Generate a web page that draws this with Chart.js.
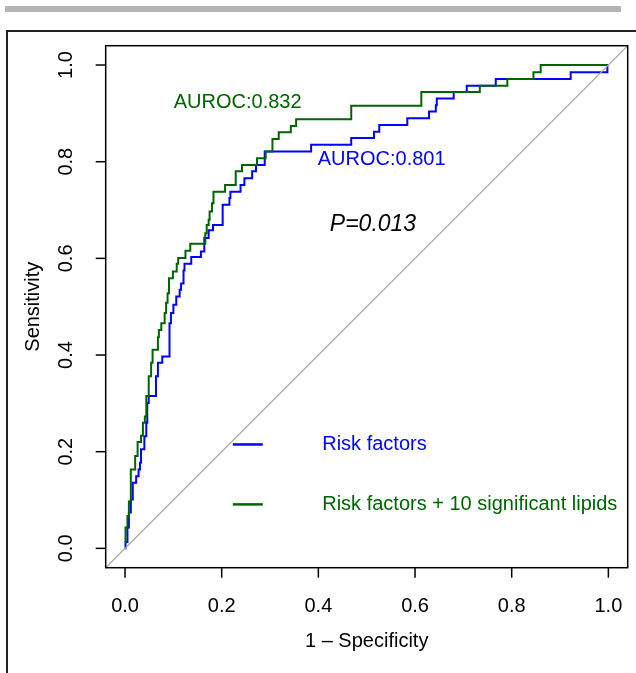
<!DOCTYPE html>
<html>
<head>
<meta charset="utf-8">
<script src="https://cdn.jsdelivr.net/npm/chart.js@4/dist/chart.umd.min.js"></script>
<style>
  html, body { margin: 0; padding: 0; background: #fff; }
  canvas { display: block; }
</style>
</head>
<body>
<canvas id="roc" width="636" height="673"></canvas>
<script>
// ── Data (1 - specificity, sensitivity) ──
// Each point is the top of a vertical step at that false positive rate.

const riskFpr = [0, 0.001, 0.005, 0.008, 0.012, 0.016, 0.023, 0.028, 0.031, 0.033, 0.040, 0.044, 0.046, 0.049,
    0.064, 0.068, 0.077, 0.092, 0.095, 0.100, 0.106, 0.113, 0.116, 0.121, 0.123, 0.137, 0.157, 0.164,
    0.173, 0.182, 0.202, 0.216, 0.218, 0.239, 0.247, 0.263, 0.271, 0.289, 0.385, 0.468, 0.515, 0.526,
    0.584, 0.629, 0.643, 0.645, 0.680, 0.707, 0.767, 0.922, 0.998, 1.0];
const riskSens = [0, 0.013, 0.043, 0.074, 0.101, 0.136, 0.149, 0.163, 0.177, 0.205, 0.232, 0.260, 0.301, 0.315,
    0.356, 0.384, 0.397, 0.466, 0.487, 0.504, 0.521, 0.535, 0.548, 0.575, 0.589, 0.603, 0.614, 0.642,
    0.658, 0.669, 0.711, 0.725, 0.738, 0.752, 0.766, 0.780, 0.793, 0.821, 0.835, 0.849, 0.862, 0.876,
    0.890, 0.904, 0.917, 0.931, 0.944, 0.957, 0.971, 0.985, 1.0, 1.0];

const lipidFpr = [0, 0.001, 0.005, 0.008, 0.012, 0.021, 0.026, 0.033, 0.037, 0.041, 0.044, 0.049, 0.054, 0.057,
    0.068, 0.070, 0.075, 0.082, 0.085, 0.088, 0.091, 0.099, 0.107, 0.110, 0.125, 0.135, 0.166, 0.169,
    0.173, 0.175, 0.180, 0.183, 0.207, 0.229, 0.242, 0.273, 0.291, 0.305, 0.318, 0.343, 0.354, 0.468,
    0.613, 0.734, 0.791, 0.845, 0.860, 1.0];
const lipidSens = [0.013, 0.043, 0.067, 0.097, 0.163, 0.191, 0.220, 0.233, 0.260, 0.273, 0.315, 0.356, 0.384, 0.411,
    0.437, 0.452, 0.466, 0.487, 0.508, 0.528, 0.559, 0.573, 0.589, 0.601, 0.616, 0.630, 0.652, 0.669,
    0.680, 0.697, 0.714, 0.738, 0.752, 0.780, 0.793, 0.807, 0.821, 0.847, 0.861, 0.874, 0.888, 0.916,
    0.944, 0.957, 0.971, 0.985, 1.0, 1.0];

const chanceLine = [-0.04, 1.04];

const xTicks = [0, 0.2, 0.4, 0.6, 0.8, 1.0];
const yTicks = [0, 0.2, 0.4, 0.6, 0.8, 1.0];
const xTickLabels = ['0.0', '0.2', '0.4', '0.6', '0.8', '1.0'];
const yTickLabels = ['0.0', '0.2', '0.4', '0.6', '0.8', '1.0'];

const seriesNames = ['Risk factors', 'Risk factors + 10 significant lipids'];
const aucLabels = ['AUROC:0.801', 'AUROC:0.832'];
const pLabel = 'P=0.013';

const BLUE = '#0000ff';
const GREEN = '#006400';
const FONT = '"Liberation Sans", Arial, Helvetica, sans-serif';

function toPoints(xs, ys) {
    return xs.map((x, i) => ({ x, y: ys[i] }));
}

// ── Base-R style frame, axes and annotations ──
const rDecor = {
    id: 'rDecor',
    beforeDraw(chart) {
        const ctx = chart.ctx;
        ctx.save();
        ctx.fillStyle = '#fff';
        ctx.fillRect(0, 0, chart.width, chart.height);
        // grey rule on top of the panel
        ctx.fillStyle = '#b4b4b4';
        ctx.fillRect(5, 6, 616, 6);
        // outer panel frame
        ctx.strokeStyle = '#222';
        ctx.lineWidth = 2;
        ctx.beginPath();
        ctx.moveTo(7, 673);
        ctx.lineTo(7, 31);
        ctx.lineTo(640, 31);
        ctx.stroke();
        ctx.restore();
    },
    afterDraw(chart) {
        const ctx = chart.ctx;
        const { left, right, top, bottom } = chart.chartArea;
        const sx = chart.scales.x, sy = chart.scales.y;
        ctx.save();
        ctx.strokeStyle = '#000';
        ctx.lineWidth = 1.5;
        ctx.strokeRect(left, top, right - left, bottom - top);

        // ticks + labels
        ctx.fillStyle = '#000';
        ctx.font = '20px ' + FONT;
        ctx.textAlign = 'center';
        ctx.textBaseline = 'middle';
        xTicks.forEach((v, i) => {
            const px = sx.getPixelForValue(v);
            ctx.beginPath();
            ctx.moveTo(px, bottom);
            ctx.lineTo(px, bottom + 10);
            ctx.stroke();
            ctx.fillText(xTickLabels[i], px, 606);
        });
        yTicks.forEach((v, i) => {
            const py = sy.getPixelForValue(v);
            ctx.beginPath();
            ctx.moveTo(left, py);
            ctx.lineTo(left - 10, py);
            ctx.stroke();
            ctx.save();
            ctx.translate(66, py);
            ctx.rotate(-Math.PI / 2);
            ctx.fillText(yTickLabels[i], 0, 0);
            ctx.restore();
        });
        ctx.fillText('1 \u2013 Specificity', (left + right) / 2, 641);
        ctx.save();
        ctx.translate(33, (top + bottom) / 2);
        ctx.rotate(-Math.PI / 2);
        ctx.fillText('Sensitivity', 0, 0);
        ctx.restore();

        // AUC labels and p value
        ctx.fillStyle = GREEN;
        ctx.fillText(aucLabels[1], sx.getPixelForValue(0.233), sy.getPixelForValue(0.922));
        ctx.fillStyle = BLUE;
        ctx.fillText(aucLabels[0], sx.getPixelForValue(0.531), sy.getPixelForValue(0.804));
        ctx.fillStyle = '#000';
        ctx.font = 'italic 23px ' + FONT;
        ctx.fillText(pLabel, sx.getPixelForValue(0.513), sy.getPixelForValue(0.669));

        // legend (no box)
        ctx.font = '20px ' + FONT;
        ctx.textAlign = 'left';
        ctx.lineWidth = 2.5;
        [[BLUE, 0.215], [GREEN, 0.091]].forEach(([col, yv], i) => {
            const py = sy.getPixelForValue(yv);
            ctx.strokeStyle = col;
            ctx.beginPath();
            ctx.moveTo(sx.getPixelForValue(0.223), py);
            ctx.lineTo(sx.getPixelForValue(0.285), py);
            ctx.stroke();
            ctx.fillStyle = col;
            ctx.fillText(seriesNames[i], sx.getPixelForValue(0.408), py);
        });
        ctx.restore();
    }
};

new Chart(document.getElementById('roc'), {
    type: 'scatter',
    data: {
        datasets: [
            {
                label: 'chance',
                data: toPoints(chanceLine, chanceLine),
                showLine: true, borderColor: '#a8a8a8', borderWidth: 1.3,
                pointRadius: 0,
            },
            {
                label: seriesNames[1],
                data: toPoints(lipidFpr, lipidSens),
                showLine: true, stepped: 'before', borderColor: GREEN, borderWidth: 2,
                pointRadius: 0,
            },
            {
                label: seriesNames[0],
                data: toPoints(riskFpr, riskSens),
                showLine: true, stepped: 'before', borderColor: BLUE, borderWidth: 2,
                pointRadius: 0,
            },
        ],
    },
    options: {
        responsive: false,
        animation: false,
        layout: { padding: { left: 105.7, right: 8.3, top: 45.7, bottom: 105.3 } },
        plugins: { legend: { display: false }, tooltip: { enabled: false } },
        scales: {
            x: { type: 'linear', min: -0.04, max: 1.04, display: false },
            y: { type: 'linear', min: -0.04, max: 1.04, display: false },
        },
    },
    plugins: [rDecor],
});
</script>
</body>
</html>
